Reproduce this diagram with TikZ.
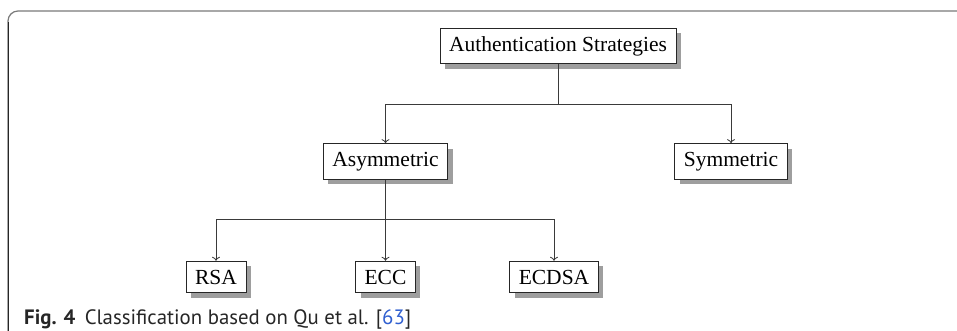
\documentclass[tikz,border=0pt]{standalone}
\usepackage{fontspec}
\setmainfont{Liberation Serif}
\newfontfamily\capfont{PT Sans}
\usetikzlibrary{arrows.meta,shadows}
\definecolor{linegray}{HTML}{3A3A3A}
\definecolor{framegray}{HTML}{7A7A7A}
\definecolor{shadowgray}{HTML}{9E9E9E}
\definecolor{reflink}{HTML}{2F5FD0}
\begin{document}
\begin{tikzpicture}[x=1pt,y=-1pt,
  catbox/.style={draw=black!85, line width=0.8pt, fill=white,
    inner xsep=9pt, inner ysep=8pt, text height=15pt, text depth=4.8pt,
    font=\fontsize{21.5}{25}\selectfont,
    drop shadow={shadow xshift=5pt, shadow yshift=-5pt, fill=shadowgray, opacity=1}},
  leafbox/.style={catbox, text depth=0.6pt},
  link/.style={draw=linegray, line width=0.8pt},
  arrowlink/.style={link, -{To[length=4pt,width=8pt]}}]
\useasboundingbox (0,0) rectangle (957,331);

% outer frame of the figure panel
\draw[framegray, line width=1.2pt, rounded corners=10pt] (8,331) -- (8,11) -- (957,11);
\draw[black!85, line width=1pt] (8,331) -- (8,22);

% category boxes
\node[catbox] (root) at (558,46) {Authentication Strategies};
\node[catbox] (asym) at (385.5,161.5) {Asymmetric};
\node[catbox] (sym) at (731,161.5) {Symmetric};
\node[leafbox] (rsa) at (216,277) {RSA};
\node[leafbox] (ecc) at (385.5,277) {ECC};
\node[leafbox] (ecdsa) at (554,277) {ECDSA};

% branching coordinates
\coordinate (j1) at (558,104);
\coordinate (j2) at (385.5,219);

% connectors
\draw[link] (root.south) -- (j1);
\draw[arrowlink] (j1) -| (asym.north);
\draw[arrowlink] (j1) -| (sym.north);
\draw[link] (asym.south) -- (j2);
\draw[arrowlink] (j2) -| (rsa.north);
\draw[arrowlink] (j2) -- (ecc.north);
\draw[arrowlink] (j2) -| (ecdsa.north);

% caption
\node[anchor=base west, inner sep=0pt, text=black!85,
  font=\capfont\fontsize{20.8}{24}\selectfont] (cap) at (24,324)
  {\textbf{Fig. 4}\hspace{0.45em}Classification based on Qu et al. [\textcolor{reflink}{63}]};
\end{tikzpicture}
\end{document}
